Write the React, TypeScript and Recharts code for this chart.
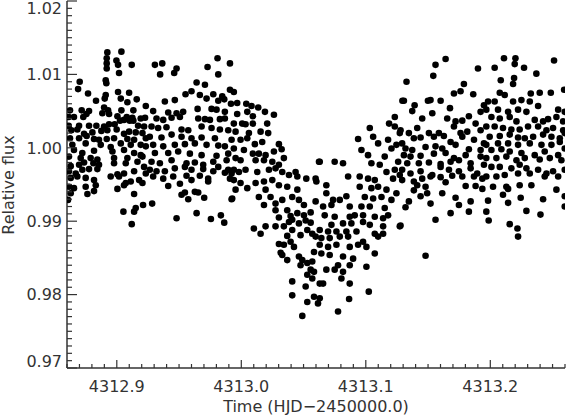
import { ScatterChart, Scatter, XAxis, YAxis } from 'recharts'

// time is HJD-2450000.0, flux is relative
const preTransitA: [number, number][] = [
  [4312.8924, 1.013], [4312.9037, 1.0131], [4312.8919, 1.0122], [4312.8997, 1.0119], [4312.8919, 1.0115],
  [4312.901, 1.0113], [4312.912, 1.0113], [4312.8919, 1.0108], [4312.9018, 1.0102], [4312.8911, 1.0092],
  [4312.8916, 1.0088], [4312.8702, 1.009], [4312.8689, 1.008], [4312.8769, 1.0074], [4312.8911, 1.0072],
  [4312.901, 1.0076], [4312.9099, 1.0075], [4312.8833, 1.0064], [4312.8903, 1.0067], [4312.9032, 1.0067],
  [4312.916, 1.0066], [4312.9233, 1.0057], [4312.9085, 1.0062], [4312.8624, 1.0051], [4312.8718, 1.0051],
  [4312.8777, 1.005], [4312.8898, 1.0055], [4312.893, 1.0051], [4312.9037, 1.0051], [4312.9133, 1.0051],
  [4312.8614, 1.0042], [4312.8656, 1.0042], [4312.8731, 1.0042], [4312.8756, 1.0046], [4312.8884, 1.0047],
  [4312.8938, 1.0046], [4312.9005, 1.0043], [4312.908, 1.0042], [4312.9125, 1.0041], [4312.9192, 1.004],
  [4312.9227, 1.0041], [4312.8614, 1.003], [4312.8697, 1.003], [4312.8777, 1.003], [4312.8836, 1.003],
  [4312.8898, 1.0029], [4312.8938, 1.0032], [4312.8983, 1.0032], [4312.9026, 1.0037], [4312.9058, 1.0038],
  [4312.9104, 1.0037], [4312.9133, 1.0037], [4312.9171, 1.003], [4312.9219, 1.0029], [4312.8635, 1.0024],
  [4312.8683, 1.0025], [4312.8737, 1.0019], [4312.8804, 1.0021], [4312.8876, 1.0023], [4312.8924, 1.0024],
  [4312.8999, 1.0025], [4312.9058, 1.0019], [4312.9099, 1.0022], [4312.9152, 1.0021], [4312.9206, 1.002],
  [4312.8624, 1.0013], [4312.8697, 1.0013], [4312.8758, 1.0016], [4312.8817, 1.0012], [4312.8857, 1.0011],
  [4312.8919, 1.0012], [4312.8978, 1.0013], [4312.9085, 1.0012], [4312.9139, 1.0011], [4312.9233, 1.0013],
  [4312.8643, 1.0004], [4312.875, 1.0006], [4312.8871, 1.0004], [4312.8951, 1.0001], [4312.9032, 1.0006],
  [4312.9112, 1.0004], [4312.9192, 1.0004], [4312.9233, 1.0002], [4312.8656, 0.9997], [4312.8723, 0.9993],
  [4312.8817, 0.9996], [4312.8965, 0.9995], [4312.9058, 0.9997], [4312.9139, 0.9993], [4312.9192, 0.999],
  [4312.8616, 0.9988], [4312.871, 0.9986], [4312.879, 0.9986], [4312.8844, 0.9984], [4312.8978, 0.9986],
  [4312.9085, 0.9986], [4312.9206, 0.9988], [4312.863, 0.9975], [4312.8697, 0.9977], [4312.8737, 0.998],
  [4312.8812, 0.9979], [4312.8857, 0.9977], [4312.8978, 0.9979], [4312.9072, 0.9979], [4312.9166, 0.9981],
  [4312.9219, 0.9974], [4312.8616, 0.9968], [4312.867, 0.9965], [4312.8723, 0.997], [4312.8777, 0.9971],
  [4312.8844, 0.9971], [4312.9005, 0.9964], [4312.9058, 0.9965], [4312.9139, 0.9968], [4312.9233, 0.9965],
  [4312.863, 0.9959], [4312.8683, 0.9961], [4312.875, 0.9959], [4312.8817, 0.9956], [4312.8951, 0.9961],
  [4312.9018, 0.9961], [4312.9072, 0.9952], [4312.9179, 0.9956], [4312.8616, 0.9947], [4312.8656, 0.9945],
  [4312.875, 0.9947], [4312.8831, 0.9949], [4312.9005, 0.9944], [4312.9058, 0.9949], [4312.9112, 0.9954],
  [4312.9206, 0.9952], [4312.863, 0.9938], [4312.8764, 0.9937], [4312.8817, 0.9941], [4312.9139, 0.9937],
  [4312.8608, 0.9929], [4312.9053, 0.9913], [4312.9139, 0.9913], [4312.9211, 0.9922], [4312.9152, 0.9918],
  [4312.912, 0.9896],
]

const preTransitB: [number, number][] = [
  [4312.9809, 1.0122], [4312.9306, 1.0113], [4312.9365, 1.0115], [4312.948, 1.0108], [4312.9348, 1.01],
  [4312.9461, 1.0102], [4312.9729, 1.011], [4312.9909, 1.0115], [4312.9815, 1.01], [4312.9641, 1.0089],
  [4312.9708, 1.0086], [4312.96, 1.0077], [4312.9552, 1.0073], [4312.9667, 1.0072], [4312.9775, 1.0073],
  [4312.9721, 1.0067], [4312.9847, 1.007], [4312.9909, 1.0079], [4312.9863, 1.0066], [4312.9386, 1.0063],
  [4312.9466, 1.0065], [4312.9815, 1.0064], [4312.9917, 1.006], [4312.9292, 1.005], [4312.9413, 1.0048],
  [4312.948, 1.0047], [4312.9533, 1.0049], [4312.9649, 1.0053], [4312.9761, 1.0053], [4312.9801, 1.0052],
  [4312.9868, 1.0049], [4312.9319, 1.004], [4312.9373, 1.0038], [4312.944, 1.0041], [4312.9507, 1.0042],
  [4312.9654, 1.004], [4312.9708, 1.0039], [4312.9748, 1.0038], [4312.9868, 1.004], [4312.9828, 1.0039],
  [4312.9279, 1.0029], [4312.9332, 1.0027], [4312.9399, 1.0028], [4312.952, 1.0025], [4312.9574, 1.0024],
  [4312.9681, 1.0029], [4312.9761, 1.0027], [4312.9828, 1.0025], [4312.9895, 1.0024], [4312.9265, 1.0015],
  [4312.9359, 1.0014], [4312.944, 1.0018], [4312.952, 1.0015], [4312.96, 1.0013], [4312.9681, 1.0014],
  [4312.9788, 1.0013], [4312.9922, 1.0011], [4312.9292, 1.0004], [4312.9373, 1.0002], [4312.9466, 1.0004],
  [4312.9547, 1.0005], [4312.9627, 1.0006], [4312.9721, 1.0004], [4312.9815, 1.0003], [4312.9868, 1.0002],
  [4312.9306, 0.9993], [4312.9413, 0.9993], [4312.9493, 0.9995], [4312.9587, 0.9992], [4312.9681, 0.999],
  [4312.9801, 0.9989], [4312.9895, 0.9992], [4312.9279, 0.9981], [4312.9346, 0.9979], [4312.944, 0.9983],
  [4312.956, 0.9979], [4312.9627, 0.998], [4312.9694, 0.9977], [4312.9775, 0.9981], [4312.9882, 0.9983],
  [4312.9265, 0.997], [4312.9319, 0.9968], [4312.9386, 0.9968], [4312.9466, 0.9972], [4312.9547, 0.9974],
  [4312.96, 0.997], [4312.9694, 0.9971], [4312.9815, 0.9974], [4312.9895, 0.997], [4312.9922, 0.9965],
  [4312.9292, 0.9961], [4312.9373, 0.9958], [4312.9453, 0.9961], [4312.956, 0.9962], [4312.9667, 0.9962],
  [4312.9734, 0.9958], [4312.9775, 0.9968], [4312.9868, 0.9966], [4312.9413, 0.9948], [4312.9507, 0.9951],
  [4312.96, 0.9956], [4312.9734, 0.9954], [4312.9909, 0.9958], [4312.952, 0.9936], [4312.9574, 0.993],
  [4312.9627, 0.994], [4312.9654, 0.9939], [4312.9702, 0.9932], [4312.9547, 0.9939], [4312.9922, 0.993],
  [4312.9284, 0.9924], [4312.948, 0.9904], [4312.9641, 0.9911], [4312.9756, 0.9903], [4312.9836, 0.9908],
  [4312.9863, 0.9898],
]

const ingress: [number, number][] = [
  [4312.994, 1.0076], [4312.9967, 1.0061], [4313.004, 1.006], [4313.0082, 1.0057], [4313.0136, 1.0055],
  [4313.019, 1.0049], [4313.0262, 1.0045], [4312.9967, 1.0046], [4313.0048, 1.0049], [4313.0093, 1.0043],
  [4312.994, 1.0033], [4313.0007, 1.0033], [4313.0034, 1.0032], [4313.0093, 1.0033], [4313.0208, 1.0033],
  [4312.9954, 1.0022], [4313.0061, 1.002], [4313.0155, 1.0022], [4313.0216, 1.002], [4312.9994, 1.0011],
  [4313.0048, 1.0013], [4313.0109, 1.0005], [4313.0168, 1.0008], [4313.0302, 1.0005], [4313.0324, 0.9998],
  [4312.994, 0.9999], [4313.0021, 0.9997], [4313.0093, 0.9992], [4313.0141, 0.9992], [4313.0195, 0.999],
  [4313.0262, 0.9995], [4312.9954, 0.9986], [4312.9994, 0.9983], [4313.0115, 0.9983], [4313.0182, 0.9983],
  [4313.0249, 0.9981], [4313.0342, 0.9986], [4313.0302, 0.9977], [4313.0624, 0.9981], [4313.0436, 0.9967],
  [4313.045, 0.9961], [4313.0522, 0.9958], [4312.994, 0.997], [4312.9981, 0.9967], [4313.0034, 0.997],
  [4313.0128, 0.9967], [4313.0222, 0.997], [4313.0275, 0.9972], [4313.0329, 0.9967], [4313.0383, 0.9963],
  [4313.0597, 0.9958], [4312.994, 0.9956], [4312.9994, 0.9952], [4313.0048, 0.9945], [4313.0115, 0.9952],
  [4313.0182, 0.9954], [4313.0249, 0.9956], [4313.0302, 0.9949], [4313.0369, 0.9947], [4313.045, 0.9943],
  [4312.9954, 0.9943], [4313.0195, 0.9943], [4313.0141, 0.9933], [4313.0235, 0.9933], [4313.0275, 0.9924],
  [4313.0329, 0.9929], [4313.0409, 0.9933], [4313.0463, 0.9929], [4313.0503, 0.9922], [4313.0597, 0.9927],
  [4312.9927, 0.9931], [4313.0182, 0.9922], [4313.0275, 0.9915], [4313.0369, 0.9915], [4313.0396, 0.9907],
  [4313.045, 0.9911], [4313.0503, 0.9908], [4313.0557, 0.9912], [4313.0302, 0.9905], [4313.0195, 0.9893],
  [4313.0275, 0.9893], [4313.0342, 0.9893], [4313.0383, 0.9899], [4313.0409, 0.9902], [4313.0463, 0.9897],
  [4313.0517, 0.9901], [4313.0557, 0.9898], [4313.0101, 0.989], [4313.0155, 0.9883], [4313.0409, 0.9888],
  [4313.0476, 0.9881], [4313.053, 0.9888], [4313.057, 0.9883], [4313.0597, 0.9879], [4313.0369, 0.988],
  [4313.0396, 0.9872], [4313.0302, 0.9869], [4313.0342, 0.9868], [4313.0423, 0.9865], [4313.0316, 0.9857],
  [4313.0329, 0.9854], [4313.0369, 0.9847], [4313.0463, 0.9852], [4313.049, 0.9847], [4313.053, 0.9843],
  [4313.057, 0.9845], [4313.0584, 0.9858], [4313.0476, 0.984], [4313.0557, 0.9834], [4313.053, 0.9827],
  [4313.0584, 0.9831], [4313.057, 0.9822], [4313.0409, 0.9818], [4313.0517, 0.9811], [4313.0409, 0.9799],
  [4313.0584, 0.9797], [4313.053, 0.979], [4313.049, 0.9771],
]

const egress: [number, number][] = [
  [4313.1294, 1.0064], [4313.1233, 1.0042], [4313.1187, 1.0033], [4313.1032, 1.0027], [4313.1233, 1.0029],
  [4313.0938, 1.0012], [4313.1059, 1.0015], [4313.1099, 1.0006], [4313.1179, 1.0011], [4313.1273, 1.002],
  [4313.1246, 1.0004], [4313.1206, 0.9999], [4313.0965, 0.9997], [4313.1018, 0.999], [4313.1045, 0.9979],
  [4313.1152, 0.9988], [4313.1112, 0.9977], [4313.126, 0.9981], [4313.063, 0.9981], [4313.075, 0.9981],
  [4313.0817, 0.9979], [4313.0858, 0.9961], [4313.0951, 0.9961], [4313.1018, 0.9958], [4313.1072, 0.9956],
  [4313.1166, 0.9967], [4313.1233, 0.997], [4313.1273, 0.9963], [4313.1219, 0.9958], [4313.0603, 0.9954],
  [4313.0683, 0.9949], [4313.0951, 0.9947], [4313.1045, 0.9945], [4313.1099, 0.9947], [4313.1166, 0.9943],
  [4313.1246, 0.9938], [4313.0683, 0.9938], [4313.0737, 0.9929], [4313.0791, 0.9929], [4313.0844, 0.9934],
  [4313.0992, 0.9933], [4313.1059, 0.9931], [4313.1126, 0.9933], [4313.1206, 0.9929], [4313.0657, 0.992],
  [4313.0724, 0.9922], [4313.0871, 0.992], [4313.0965, 0.992], [4313.1032, 0.992], [4313.1152, 0.9918],
  [4313.1179, 0.9908], [4313.067, 0.9908], [4313.075, 0.9906], [4313.0871, 0.9906], [4313.0911, 0.9908],
  [4313.0978, 0.9908], [4313.1072, 0.9906], [4313.1139, 0.9904], [4313.1273, 0.9893], [4313.0724, 0.9895],
  [4313.0817, 0.9897], [4313.0884, 0.9897], [4313.0978, 0.9899], [4313.1032, 0.9895], [4313.1139, 0.9893],
  [4313.063, 0.9888], [4313.0697, 0.9886], [4313.0764, 0.9886], [4313.0844, 0.9886], [4313.0925, 0.9886],
  [4313.1072, 0.9883], [4313.1139, 0.9883], [4313.0643, 0.9877], [4313.071, 0.9877], [4313.0791, 0.9879],
  [4313.0858, 0.9879], [4313.0978, 0.9872], [4313.1099, 0.9879], [4313.063, 0.9868], [4313.0697, 0.9865],
  [4313.0764, 0.9868], [4313.0871, 0.9865], [4313.0938, 0.9868], [4313.1005, 0.9865], [4313.1072, 0.9856],
  [4313.0643, 0.9856], [4313.071, 0.9854], [4313.0817, 0.9852], [4313.0898, 0.9849], [4313.0777, 0.984],
  [4313.0871, 0.984], [4313.1005, 0.9838], [4313.0683, 0.9834], [4313.075, 0.9834], [4313.0817, 0.9831],
  [4313.0804, 0.9822], [4313.0871, 0.9815], [4313.063, 0.9815], [4313.0657, 0.9815], [4313.063, 0.9795],
  [4313.0616, 0.9788], [4313.0866, 0.9794], [4313.1024, 0.9804], [4313.0777, 0.9777],
]

const postTransitA: [number, number][] = [
  [4313.1641, 1.0121], [4313.156, 1.0113], [4313.1542, 1.0098], [4313.1901, 1.0108], [4313.1327, 1.009],
  [4313.1788, 1.0087], [4313.1708, 1.0074], [4313.1761, 1.0077], [4313.1863, 1.0073], [4313.1306, 1.0064],
  [4313.1392, 1.0058], [4313.1499, 1.0064], [4313.152, 1.0065], [4313.1601, 1.0064], [4313.1676, 1.0054],
  [4313.1922, 1.0049], [4313.1373, 1.005], [4313.1453, 1.004], [4313.1534, 1.0047], [4313.1654, 1.004],
  [4313.1721, 1.0036], [4313.1775, 1.0037], [4313.1828, 1.0043], [4313.1882, 1.0033], [4313.1949, 1.0058],
  [4313.1279, 1.0024], [4313.1346, 1.002], [4313.1413, 1.0027], [4313.1507, 1.002], [4313.1587, 1.002],
  [4313.1627, 1.0016], [4313.1708, 1.0029], [4313.1761, 1.002], [4313.1815, 1.0022], [4313.1922, 1.0024],
  [4313.1292, 1.0006], [4313.1386, 1.0013], [4313.144, 1.0014], [4313.1547, 1.0015], [4313.1681, 1.0008],
  [4313.1775, 1.0015], [4313.1869, 1.0011], [4313.1949, 1.0006], [4313.1319, 0.9999], [4313.1373, 0.9997],
  [4313.148, 1.0001], [4313.156, 1.0002], [4313.1614, 0.9999], [4313.1721, 1.0004], [4313.1828, 0.9998],
  [4313.1922, 0.9997], [4313.1306, 0.999], [4313.1359, 0.9988], [4313.144, 0.9989], [4313.1547, 0.9992],
  [4313.1641, 0.9993], [4313.1708, 0.9986], [4313.1802, 0.999], [4313.1922, 0.9988], [4313.1333, 0.9979],
  [4313.1426, 0.9979], [4313.1507, 0.998], [4313.1601, 0.9978], [4313.1681, 0.9981], [4313.1748, 0.9983],
  [4313.1842, 0.9979], [4313.1949, 0.9977], [4313.1292, 0.997], [4313.1359, 0.9965], [4313.144, 0.9968],
  [4313.1534, 0.9963], [4313.1601, 0.9974], [4313.1668, 0.997], [4313.1748, 0.9968], [4313.1842, 0.9972],
  [4313.1895, 0.9965], [4313.1292, 0.9956], [4313.1386, 0.9954], [4313.1453, 0.9958], [4313.152, 0.9961],
  [4313.1601, 0.996], [4313.1694, 0.9962], [4313.1775, 0.9961], [4313.1869, 0.9961], [4313.1936, 0.9958],
  [4313.1413, 0.9949], [4313.148, 0.9947], [4313.1641, 0.9953], [4313.1802, 0.9948], [4313.1882, 0.9948],
  [4313.1936, 0.9944], [4313.1386, 0.9942], [4313.1493, 0.9938], [4313.1614, 0.9938], [4313.1721, 0.9932],
  [4313.1842, 0.9927], [4313.1346, 0.9927], [4313.144, 0.9934], [4313.152, 0.9924], [4313.1319, 0.9919],
  [4313.1748, 0.9922], [4313.1828, 0.9913], [4313.1681, 0.9911], [4313.156, 0.9902], [4313.1279, 0.9894],
  [4313.148, 0.9853],
]

const postTransitB: [number, number][] = [
  [4313.211, 1.0122], [4313.2202, 1.0122], [4313.2196, 1.0114], [4313.2271, 1.0109], [4313.2035, 1.0109],
  [4313.2512, 1.0119], [4313.237, 1.0101], [4313.2191, 1.0095], [4313.2084, 1.0092], [4313.2183, 1.0087],
  [4313.2076, 1.0075], [4313.2116, 1.0072], [4313.2397, 1.0075], [4313.2486, 1.0075], [4313.2593, 1.0079],
  [4313.2325, 1.0074], [4313.1982, 1.0063], [4313.2035, 1.0063], [4313.225, 1.0065], [4313.2183, 1.0063],
  [4313.2317, 1.0063], [4313.2384, 1.0057], [4313.2545, 1.0052], [4313.2598, 1.0049], [4313.1968, 1.0052],
  [4313.2062, 1.0052], [4313.2143, 1.0049], [4313.2223, 1.0052], [4313.229, 1.0049], [4313.2464, 1.0039],
  [4313.2531, 1.0042], [4313.2009, 1.0042], [4313.2076, 1.004], [4313.2156, 1.0042], [4313.221, 1.0036],
  [4313.2357, 1.0038], [4313.2424, 1.0036], [4313.2585, 1.0036], [4313.1968, 1.0029], [4313.2035, 1.0029],
  [4313.2102, 1.0027], [4313.2169, 1.0025], [4313.2236, 1.0025], [4313.2303, 1.0029], [4313.2384, 1.0029],
  [4313.2451, 1.0024], [4313.2504, 1.0027], [4313.2585, 1.0024], [4313.1995, 1.0015], [4313.2076, 1.0016],
  [4313.2156, 1.0018], [4313.2223, 1.0014], [4313.2277, 1.0013], [4313.2344, 1.0015], [4313.2424, 1.0018],
  [4313.2491, 1.0015], [4313.2558, 1.0013], [4313.2598, 1.002], [4313.1968, 1.0004], [4313.2062, 1.0006],
  [4313.2143, 1.0006], [4313.2223, 1.0004], [4313.2317, 1.0006], [4313.2411, 1.0004], [4313.2491, 1.0004],
  [4313.2558, 1.0008], [4313.2009, 0.9997], [4313.2089, 0.9998], [4313.2156, 0.9995], [4313.225, 0.9993],
  [4313.2357, 0.999], [4313.2437, 0.9995], [4313.2545, 0.999], [4313.2598, 0.9999], [4313.1968, 0.9986],
  [4313.2049, 0.9986], [4313.2129, 0.9988], [4313.221, 0.9983], [4313.2277, 0.9986], [4313.2397, 0.9984],
  [4313.2478, 0.9986], [4313.2571, 0.9983], [4313.2009, 0.9974], [4313.2076, 0.9974], [4313.2169, 0.9972],
  [4313.2236, 0.9977], [4313.229, 0.9972], [4313.2384, 0.997], [4313.2451, 0.9965], [4313.2504, 0.9968],
  [4313.2545, 0.9961], [4313.2598, 0.997], [4313.1968, 0.9961], [4313.2049, 0.9961], [4313.2116, 0.9963],
  [4313.2223, 0.9965], [4313.2317, 0.9965], [4313.2437, 0.9961], [4313.2236, 0.9949], [4313.233, 0.9949],
  [4313.2129, 0.9947], [4313.2102, 0.9936], [4313.2143, 0.9944], [4313.2022, 0.9947], [4313.2244, 0.9932],
  [4313.2424, 0.993], [4313.1982, 0.9928], [4313.2143, 0.9925], [4313.229, 0.9914], [4313.2403, 0.9909],
  [4313.1968, 0.9913], [4313.1987, 0.9901], [4313.2156, 0.9896], [4313.2218, 0.989], [4313.2223, 0.9879],
  [4313.2598, 0.9934], [4313.2598, 0.992], [4313.2531, 0.9943],
]

const xMajor = [4312.9, 4313.0, 4313.1, 4313.2]
const xTickLabels = ['4312.9', '4313.0', '4313.1', '4313.2']
const yMajor = [0.97, 0.98, 0.99, 1.0, 1.01, 1.02]
const yTickLabels = ['0.97', '0.98', '0.99', '1.00', '1.01', '1.02']

const X_DOMAIN: [number, number] = [4312.86, 4313.26]
const Y_DOMAIN: [number, number] = [0.97, 1.02]

// minor ticks: every 0.01 d on time, every 0.001 on flux
const xTicks = Array.from({ length: 41 }, (_, i) => +(4312.86 + i * 0.01).toFixed(2))
const yTicks = Array.from({ length: 51 }, (_, i) => +(0.97 + i * 0.001).toFixed(3))

const points = [...preTransitA, ...preTransitB, ...ingress, ...egress, ...postTransitA, ...postTransitB].map(
  ([t, f]) => ({ t, f })
)

const AXIS = '#333'
const FONT = '"DejaVu Sans", sans-serif'

const labelFor = (v: number, majors: number[], labels: string[]) => {
  const i = majors.findIndex((m) => Math.abs(m - v) < 1e-6)
  return i >= 0 ? labels[i] : null
}

const BottomTick = ({ x, y, payload }: any) => {
  const lab = labelFor(payload.value, xMajor, xTickLabels)
  const len = lab ? 8 : 4
  return (
    <g>
      <line x1={x} x2={x} y1={y} y2={y - len} stroke={AXIS} strokeWidth={1.2} />
      {lab && (
        <text x={x} y={y + 24} textAnchor="middle" fontSize={16} fontFamily={FONT} fill={AXIS}>
          {lab}
        </text>
      )}
    </g>
  )
}

const TopTick = ({ x, y, payload }: any) => {
  const len = labelFor(payload.value, xMajor, xTickLabels) ? 8 : 4
  return <line x1={x} x2={x} y1={y} y2={y + len} stroke={AXIS} strokeWidth={1.2} />
}

const LeftTick = ({ x, y, payload }: any) => {
  const lab = labelFor(payload.value, yMajor, yTickLabels)
  const len = lab ? 10 : 5
  const ty = Math.min(Math.max(y, 8), 361)
  return (
    <g>
      <line x1={x} x2={x + len} y1={y} y2={y} stroke={AXIS} strokeWidth={1.2} />
      {lab && (
        <text x={x - 5} y={ty} dy="0.36em" textAnchor="end" fontSize={16} fontFamily={FONT} fill={AXIS}>
          {lab}
        </text>
      )}
    </g>
  )
}

const RightTick = ({ x, y, payload }: any) => {
  const len = labelFor(payload.value, yMajor, yTickLabels) ? 10 : 5
  return <line x1={x} x2={x - len} y1={y} y2={y} stroke={AXIS} strokeWidth={1.2} />
}

const XTitle = () => (
  <text x={316} y={412} textAnchor="middle" fontSize={16} fontFamily={FONT} fill={AXIS}>
    Time (HJD−2450000.0)
  </text>
)

const YTitle = () => (
  <text x={14} y={185} transform="rotate(-90 14 185)" textAnchor="middle" fontSize={16} fontFamily={FONT} fill={AXIS}>
    Relative flux
  </text>
)

const Dot = (p: any) => <circle cx={p.cx} cy={p.cy} r={3.3} fill="#000" />

export default function App() {
  return (
    <div style={{ position: 'absolute', left: 0, top: 0, width: 566, height: 417, background: '#fff' }}>
      <ScatterChart width={566} height={417} margin={{ top: 1, right: 1, bottom: 0, left: 7 }}>
        <XAxis
          xAxisId="b"
          type="number"
          dataKey="t"
          domain={X_DOMAIN}
          ticks={xTicks}
          interval={0}
          allowDataOverflow
          height={49}
          tickSize={0}
          tickMargin={0}
          tickLine={false}
          axisLine={{ stroke: AXIS, strokeWidth: 1.5 }}
          tick={<BottomTick />}
          label={<XTitle />}
        />
        <XAxis
          xAxisId="t"
          orientation="top"
          type="number"
          dataKey="t"
          domain={X_DOMAIN}
          ticks={xTicks}
          interval={0}
          allowDataOverflow
          height={0}
          tickSize={0}
          tickMargin={0}
          tickLine={false}
          axisLine={{ stroke: AXIS, strokeWidth: 1.5 }}
          tick={<TopTick />}
        />
        <YAxis
          yAxisId="l"
          type="number"
          dataKey="f"
          domain={Y_DOMAIN}
          ticks={yTicks}
          interval={0}
          allowDataOverflow
          width={60}
          tickSize={0}
          tickMargin={0}
          tickLine={false}
          axisLine={{ stroke: AXIS, strokeWidth: 1.5 }}
          tick={<LeftTick />}
          label={<YTitle />}
        />
        <YAxis
          yAxisId="r"
          orientation="right"
          type="number"
          dataKey="f"
          domain={Y_DOMAIN}
          ticks={yTicks}
          interval={0}
          allowDataOverflow
          width={0}
          tickSize={0}
          tickMargin={0}
          tickLine={false}
          axisLine={{ stroke: AXIS, strokeWidth: 1.5 }}
          tick={<RightTick />}
        />
        <Scatter data={points} xAxisId="b" yAxisId="l" dataKey="f" shape={Dot} isAnimationActive={false} />
      </ScatterChart>
    </div>
  )
}
